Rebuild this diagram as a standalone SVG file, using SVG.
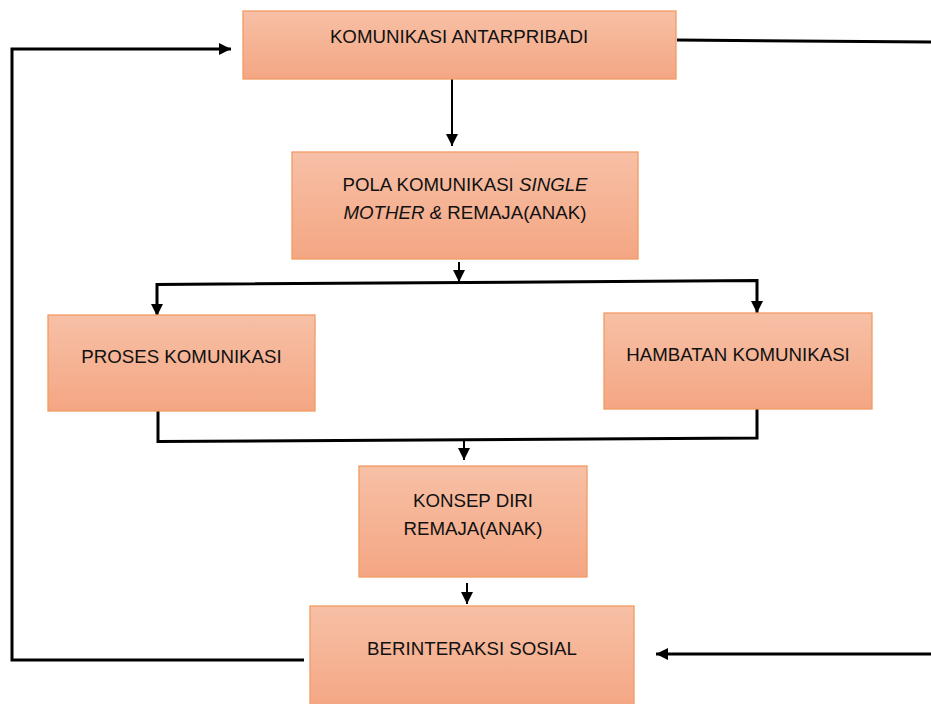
<svg xmlns="http://www.w3.org/2000/svg" width="931" height="704" viewBox="0 0 931 704">
<defs>
<linearGradient id="g" x1="0" y1="0" x2="0" y2="1">
<stop offset="0" stop-color="#f7c0a6"/>
<stop offset="1" stop-color="#f4a683"/>
</linearGradient>
<marker id="ah" markerUnits="userSpaceOnUse" markerWidth="14" markerHeight="12" refX="12" refY="6" orient="auto">
<path d="M0,0 L12,6 L0,12 Z" fill="#000"/>
</marker>
<style>
.box{fill:url(#g);stroke:#f29b62;stroke-width:1.3}
.t{font-family:"Liberation Sans",Arial,sans-serif;font-size:18.7px;fill:#111;text-anchor:middle}
.c{fill:none;stroke:#000;stroke-width:3}
.c2{fill:none;stroke:#000;stroke-width:2}
</style>
</defs>
<rect width="931" height="704" fill="#fff"/>
<g id="connectors">
<path class="c" d="M304,660 L12,660 L12,49 L231,49" marker-end="url(#ah)"/>
<path class="c" d="M677,40 L931,42"/>
<path class="c" d="M931,654 L656,654" marker-end="url(#ah)"/>
<path class="c2" d="M452,79 L452,146" marker-end="url(#ah)"/>
<path class="c2" d="M459,262 L459,282" marker-end="url(#ah)"/>
<path class="c" d="M157,316 L157,284.5 L757,280.5 L757,313"/>
<path class="c2" d="M157,300 L157,316" marker-end="url(#ah)"/>
<path class="c2" d="M757,298 L757,313" marker-end="url(#ah)"/>
<path class="c" d="M158,411 L158,441.5 L757,438 L757,409"/>
<path class="c2" d="M464,440 L464,460" marker-end="url(#ah)"/>
<path class="c2" d="M467,583 L467,604" marker-end="url(#ah)"/>
</g>
<g id="n1">
<rect class="box" x="243" y="11" width="433" height="68"/>
<text class="t" x="459" y="43">KOMUNIKASI ANTARPRIBADI</text>
</g>
<g id="n2">
<rect class="box" x="292" y="152" width="346" height="107"/>
<text class="t" x="465" y="191">POLA KOMUNIKASI <tspan font-style="italic">SINGLE</tspan></text>
<text class="t" x="465" y="219"><tspan font-style="italic">MOTHER &amp;</tspan> REMAJA(ANAK)</text>
</g>
<g id="n3">
<rect class="box" x="48" y="315" width="267" height="96"/>
<text class="t" x="181.5" y="363">PROSES KOMUNIKASI</text>
</g>
<g id="n4">
<rect class="box" x="604" y="313" width="268" height="96"/>
<text class="t" x="738" y="361">HAMBATAN KOMUNIKASI</text>
</g>
<g id="n5">
<rect class="box" x="359" y="466" width="228" height="111"/>
<text class="t" x="473" y="507">KONSEP DIRI</text>
<text class="t" x="473" y="535">REMAJA(ANAK)</text>
</g>
<g id="n6">
<rect class="box" x="310" y="606" width="324" height="104"/>
<text class="t" x="472" y="655">BERINTERAKSI SOSIAL</text>
</g>
</svg>
